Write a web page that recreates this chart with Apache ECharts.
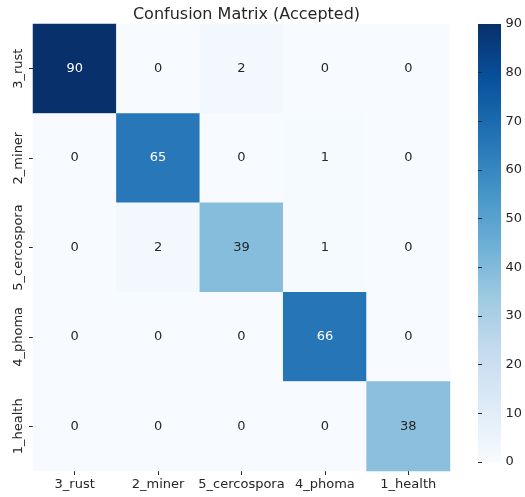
<!DOCTYPE html>
<html><head><meta charset="utf-8">
<script src="https://cdn.jsdelivr.net/npm/echarts@6/dist/echarts.min.js"></script>
<style>html,body{margin:0;padding:0;background:#fff}#c{width:525px;height:497px}</style>
</head><body><div id="c"></div>
<script>
const categories = ['3_rust','2_miner','5_cercospora','4_phoma','1_health'];
const row_3_rust = [90,0,2,0,0];
const row_2_miner = [0,65,0,1,0];
const row_5_cercospora = [0,2,39,1,0];
const row_4_phoma = [0,0,0,66,0];
const row_1_health = [0,0,0,0,38];
const colorbarTicks = [0,10,20,30,40,50,60,70,80,90];
const rows = [row_3_rust,row_2_miner,row_5_cercospora,row_4_phoma,row_1_health];
const blues = ['#f7fbff','#deebf7','#c6dbef','#9ecae1','#6baed6','#4292c6','#2171b5','#08519c','#08306b'];

const data = [];
rows.forEach((r,i)=>r.forEach((v,j)=>{
  data.push({value:[j,i,v], label:{color: v>50?'#ffffff':'#262626'}});
}));

const font = 'DejaVu Sans';
const chart = echarts.init(document.getElementById('c'));
chart.setOption({
  animation:false,
  title:{text:'Confusion Matrix (Accepted)', left:241.5, textAlign:'center', top:2,
    textStyle:{fontFamily:font,fontSize:16,fontWeight:'normal',color:'#262626'}},
  grid:[{left:33,right:75,top:24,bottom:26},
        {left:478,width:23,top:24,height:438}],
  xAxis:[{type:'category',data:categories,gridIndex:0,
      axisLine:{show:false},axisTick:{show:true,alignWithLabel:true,length:4,lineStyle:{color:'#262626'}},
      axisLabel:{fontFamily:font,fontSize:13,color:'#262626',margin:7,interval:0},splitLine:{show:false}},
    {type:'value',gridIndex:1,show:false,min:0,max:1}],
  yAxis:[{type:'category',data:categories,inverse:true,gridIndex:0,
      axisLine:{show:false},axisTick:{show:true,alignWithLabel:true,length:4,lineStyle:{color:'#262626'}},
      axisLabel:{fontFamily:font,fontSize:13,color:'#262626',rotate:90,margin:8,interval:0},splitLine:{show:false}},
    {type:'value',gridIndex:1,position:'right',min:colorbarTicks[0],max:colorbarTicks[colorbarTicks.length-1],interval:10,
      axisLine:{show:false},axisTick:{show:true,length:4,lineStyle:{color:'#262626'}},
      axisLabel:{fontFamily:font,fontSize:13,color:'#262626',margin:6},splitLine:{show:false}}],
  visualMap:{show:false,min:0,max:90,seriesIndex:0,inRange:{color:blues}},
  graphic:[{type:'rect',shape:{x:478,y:24,width:23,height:438},z:-1,
    style:{fill:new echarts.graphic.LinearGradient(0,1,0,0,blues.map((c,i)=>({offset:i/(blues.length-1),color:c})))}}],
  series:[{type:'heatmap',xAxisIndex:0,yAxisIndex:0,data:data,
    label:{show:true,fontFamily:font,fontSize:13},
    itemStyle:{borderWidth:0}}]
});
</script></body></html>
